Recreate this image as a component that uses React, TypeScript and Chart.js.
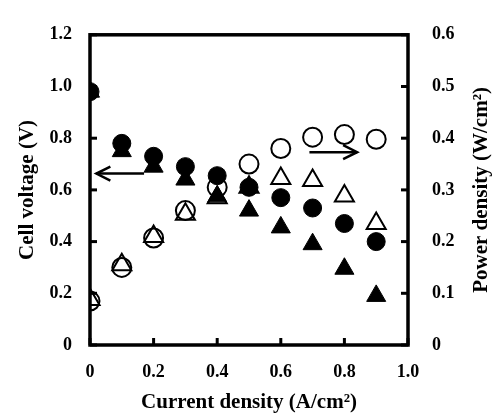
import React, { useEffect, useRef } from "react";
import { Chart, registerables } from "chart.js";

Chart.register(...registerables);

const currentDensity = [0, 0.1, 0.2, 0.3, 0.4, 0.5, 0.6, 0.7, 0.8, 0.9];
const voltageCircle = [0.98, 0.78, 0.73, 0.69, 0.655, 0.61, 0.57, 0.53, 0.47, 0.40];
const voltageTriangle = [0.98, 0.75, 0.69, 0.64, 0.575, 0.52, 0.455, 0.39, 0.295, 0.19];
const powerCircle = [0.085, 0.15, 0.207, 0.26, 0.305, 0.35, 0.38, 0.402, 0.407, 0.398];
const powerTriangle = [0.088, 0.155, 0.21, 0.253, 0.285, 0.305, 0.322, 0.318, 0.288, 0.235];

const xTicks = [0, 0.2, 0.4, 0.6, 0.8, 1.0];
const voltageTicks = [0, 0.2, 0.4, 0.6, 0.8, 1.0, 1.2];
const powerTicks = [0, 0.1, 0.2, 0.3, 0.4, 0.5, 0.6];

// arrows: [xFrom, xTo, yValue]
const voltageArrow = [0.17, 0.02, 0.663];
const powerArrow = [0.69, 0.84, 0.373];

const xTitle = "Current density (A/cm²)";
const yTitle = "Cell voltage (V)";
const y2Title = "Power density (W/cm²)";

const FONT = "'Liberation Serif', 'Times New Roman', serif";

const fmt = (v: number) => (Math.abs(v) < 1e-9 ? "0" : Number(v).toFixed(1));

const framePlugin = {
  id: "frame",
  afterDatasetsDraw(chart: any) {
    const { ctx, chartArea, scales } = chart;
    const { left, right, top, bottom } = chartArea;
    ctx.save();
    ctx.strokeStyle = "#000";
    ctx.lineWidth = 3.5;
    ctx.strokeRect(left, top, right - left, bottom - top);
    // inside tick marks
    ctx.lineWidth = 3;
    const tl = 7;
    xTicks.forEach((v) => {
      const px = scales.x.getPixelForValue(v);
      ctx.beginPath();
      ctx.moveTo(px, bottom);
      ctx.lineTo(px, bottom - tl);
      ctx.stroke();
    });
    voltageTicks.forEach((v) => {
      const py = scales.y.getPixelForValue(v);
      ctx.beginPath();
      ctx.moveTo(left, py);
      ctx.lineTo(left + tl, py);
      ctx.stroke();
    });
    powerTicks.forEach((v) => {
      const py = scales.y2.getPixelForValue(v);
      ctx.beginPath();
      ctx.moveTo(right, py);
      ctx.lineTo(right - tl, py);
      ctx.stroke();
    });

    // arrows
    const drawArrow = (x1: number, x2: number, y: number) => {
      ctx.lineWidth = 2.5;
      ctx.beginPath();
      ctx.moveTo(x1, y);
      ctx.lineTo(x2, y);
      ctx.stroke();
      const dir = Math.sign(x2 - x1);
      ctx.beginPath();
      ctx.moveTo(x2 - dir * 14, y - 7);
      ctx.lineTo(x2, y);
      ctx.lineTo(x2 - dir * 14, y + 7);
      ctx.stroke();
    };
    drawArrow(
      scales.x.getPixelForValue(voltageArrow[0]),
      scales.x.getPixelForValue(voltageArrow[1]),
      scales.y.getPixelForValue(voltageArrow[2])
    );
    drawArrow(
      scales.x.getPixelForValue(powerArrow[0]),
      scales.x.getPixelForValue(powerArrow[1]),
      scales.y2.getPixelForValue(powerArrow[2])
    );

    // titles
    ctx.fillStyle = "#000";
    ctx.font = `bold 21px ${FONT}`;
    ctx.textAlign = "center";
    ctx.textBaseline = "middle";
    ctx.fillText(xTitle, (left + right) / 2, 403);
    const midY = (top + bottom) / 2;
    ctx.save();
    ctx.translate(28, midY);
    ctx.rotate(-Math.PI / 2);
    ctx.fillText(yTitle, 0, 0);
    ctx.restore();
    ctx.save();
    ctx.translate(482, midY);
    ctx.rotate(-Math.PI / 2);
    ctx.fillText(y2Title, 0, 0);
    ctx.restore();
    ctx.restore();
  },
};

export default function App() {
  const ref = useRef<HTMLCanvasElement | null>(null);
  useEffect(() => {
    if (!ref.current) return;
    const tickFont = { family: FONT, size: 18, weight: "bold" as const };
    const chart = new Chart(ref.current, {
      type: "scatter",
      data: {
        datasets: [
          {
            label: "Power (circle)",
            data: currentDensity.map((x, i) => ({ x, y: powerCircle[i] })),
            yAxisID: "y2",
            pointStyle: "circle",
            pointRadius: 9.5,
            backgroundColor: "rgba(255,255,255,0)",
            borderColor: "#000",
            borderWidth: 2,
            order: 4,
          },
          {
            label: "Power (triangle)",
            data: currentDensity.map((x, i) => ({ x, y: powerTriangle[i] })),
            yAxisID: "y2",
            pointStyle: "triangle",
            pointRadius: 11,
            backgroundColor: "rgba(255,255,255,0)",
            borderColor: "#000",
            borderWidth: 2,
            order: 3,
          },
          {
            label: "Voltage (triangle)",
            data: currentDensity.map((x, i) => ({ x, y: voltageTriangle[i] })),
            yAxisID: "y",
            pointStyle: "triangle",
            pointRadius: 11,
            backgroundColor: "#000",
            borderColor: "#000",
            borderWidth: 1,
            order: 2,
          },
          {
            label: "Voltage (circle)",
            data: currentDensity.map((x, i) => ({ x, y: voltageCircle[i] })),
            yAxisID: "y",
            pointStyle: "circle",
            pointRadius: 9,
            backgroundColor: "#000",
            borderColor: "#000",
            borderWidth: 1,
            order: 1,
          },
        ],
      },
      options: {
        animation: false,
        responsive: false,
        layout: { padding: { top: 23, left: 0, right: 0, bottom: 0 } },
        plugins: {
          legend: { display: false },
          tooltip: { enabled: false },
        },
        scales: {
          x: {
            type: "linear",
            position: "bottom",
            min: 0,
            max: 1.0,
            afterBuildTicks: (s: any) => {
              s.ticks = xTicks.map((value) => ({ value }));
            },
            ticks: {
              callback: (v: any) => fmt(v),
              font: tickFont,
              color: "#000",
              padding: 17,
              maxRotation: 0,
            },
            grid: { display: false, drawTicks: false },
            border: { display: false },
            afterFit: (s: any) => {
              s.height = 70;
            },
          },
          y: {
            type: "linear",
            position: "left",
            min: 0,
            max: 1.2,
            afterBuildTicks: (s: any) => {
              s.ticks = voltageTicks.map((value) => ({ value }));
            },
            ticks: {
              callback: (v: any) => fmt(v),
              font: tickFont,
              color: "#000",
              padding: 18,
            },
            grid: { display: false, drawTicks: false },
            border: { display: false },
            afterFit: (s: any) => {
              s.width = 90;
            },
          },
          y2: {
            type: "linear",
            position: "right",
            min: 0,
            max: 0.6,
            afterBuildTicks: (s: any) => {
              s.ticks = powerTicks.map((value) => ({ value }));
            },
            ticks: {
              callback: (v: any) => fmt(v),
              font: tickFont,
              color: "#000",
              padding: 24,
            },
            grid: { display: false, drawTicks: false },
            border: { display: false },
            afterFit: (s: any) => {
              s.width = 85;
            },
          },
        },
      },
      plugins: [framePlugin],
    });
    return () => chart.destroy();
  }, []);
  return (
    <canvas
      ref={ref}
      width={493}
      height={415}
      style={{ position: "absolute", left: 0, top: 0, width: 493, height: 415 }}
    />
  );
}
